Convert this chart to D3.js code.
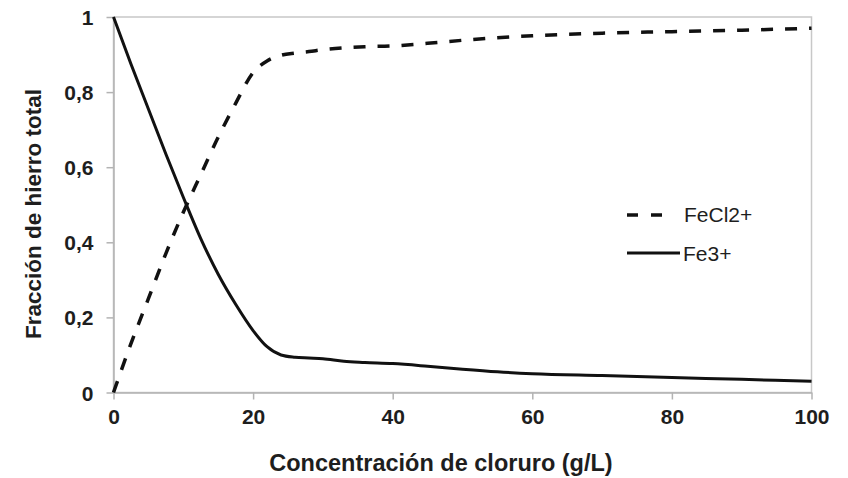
<!DOCTYPE html>
<html>
<head>
<meta charset="utf-8">
<script src="https://cdn.jsdelivr.net/npm/d3@7"></script>
<style>
  html, body { margin: 0; padding: 0; background: #fff; }
  svg { display: block; font-family: "Liberation Sans", Arial, sans-serif; }
</style>
</head>
<body>
<svg id="chart" width="848" height="478"></svg>
<script>
// Chloride concentration (g/L)
const cloruro = [0, 2.5, 5, 7.5, 10, 12.5, 15, 17.5, 20, 22, 24, 26, 28, 30, 33, 36, 40, 45, 50, 55, 60, 70, 80, 90, 100];
// Fraction of total iron present as FeCl2+
const fecl2 = [0, 0.13, 0.25, 0.37, 0.48, 0.58, 0.68, 0.77, 0.852, 0.883, 0.898, 0.904, 0.908, 0.913, 0.918, 0.921, 0.923, 0.93, 0.938, 0.945, 0.95, 0.957, 0.961, 0.965, 0.97];
// Fraction of total iron present as Fe3+
const fe3 = [1, 0.875, 0.755, 0.635, 0.52, 0.41, 0.315, 0.235, 0.165, 0.122, 0.1, 0.094, 0.092, 0.09, 0.083, 0.08, 0.077, 0.07, 0.062, 0.055, 0.05, 0.045, 0.04, 0.035, 0.03];

const xTicks = [0, 20, 40, 60, 80, 100];
const yTicks = [0, 0.2, 0.4, 0.6, 0.8, 1];
const seriesNames = ["FeCl2+", "Fe3+"];

const svg = d3.select("#chart");
const x = d3.scaleLinear().domain([0, 100]).range([113.5, 811.5]);
const y = d3.scaleLinear().domain([0, 1]).range([392.5, 17]);

const axisColor = "#b3b3b3";
const textColor = "#1e1e1e";

// Plot area frame (top and right edges)
svg.append("rect")
  .attr("x", x(0)).attr("y", y(1))
  .attr("width", x(100) - x(0)).attr("height", y(0) - y(1))
  .attr("fill", "none").attr("stroke", "#c8c8c8").attr("stroke-width", 1.5);

const fmtY = d => (d === 0 || d === 1) ? String(d) : d3.format(".1f")(d).replace(".", ",");

const gx = svg.append("g")
  .attr("transform", `translate(0,${y(0)})`)
  .call(d3.axisBottom(x).tickValues(xTicks).tickSizeInner(7).tickSizeOuter(0).tickPadding(10));
const gy = svg.append("g")
  .attr("transform", `translate(${x(0)},0)`)
  .call(d3.axisLeft(y).tickValues(yTicks).tickFormat(fmtY).tickSizeInner(7).tickSizeOuter(0).tickPadding(13));

[gx, gy].forEach(g => {
  g.selectAll("path.domain").attr("stroke", axisColor).attr("stroke-width", 1.5);
  g.selectAll(".tick line").attr("stroke", axisColor).attr("stroke-width", 1.5);
  g.selectAll(".tick text")
    .attr("fill", textColor)
    .style("font-size", "21px")
    .style("font-weight", "bold")
    .style("font-family", "'Liberation Sans', Arial, sans-serif");
});
gy.selectAll(".tick text").attr("dy", "0.36em");

const rows = cloruro.map((c, i) => ({ c, a: fecl2[i], b: fe3[i] }));

const lineA = d3.line().x(d => x(d.c)).y(d => y(d.a)).curve(d3.curveMonotoneX);
const lineB = d3.line().x(d => x(d.c)).y(d => y(d.b)).curve(d3.curveMonotoneX);

svg.append("path").datum(rows)
  .attr("d", lineA)
  .attr("fill", "none").attr("stroke", "#111").attr("stroke-width", 3.5)
  .attr("stroke-dasharray", "12,12");

svg.append("path").datum(rows)
  .attr("d", lineB)
  .attr("fill", "none").attr("stroke", "#111").attr("stroke-width", 3);

// Axis titles
svg.append("text")
  .attr("x", 441).attr("y", 471)
  .attr("text-anchor", "middle")
  .attr("fill", textColor)
  .style("font-size", "23.5px").style("font-weight", "bold")
  .text("Concentración de cloruro (g/L)");

svg.append("text")
  .attr("transform", "translate(41,214) rotate(-90)")
  .attr("text-anchor", "middle")
  .attr("fill", textColor)
  .style("font-size", "22.5px").style("font-weight", "bold")
  .text("Fracción de hierro total");

// Legend
const legend = svg.append("g");
legend.append("line")
  .attr("x1", 627).attr("x2", 670).attr("y1", 215).attr("y2", 215)
  .attr("stroke", "#111").attr("stroke-width", 3.5).attr("stroke-dasharray", "11,13");
legend.append("text")
  .attr("x", 684).attr("y", 222)
  .attr("fill", textColor).style("font-size", "21px")
  .text(seriesNames[0]);
legend.append("line")
  .attr("x1", 627).attr("x2", 680).attr("y1", 253).attr("y2", 253)
  .attr("stroke", "#111").attr("stroke-width", 3);
legend.append("text")
  .attr("x", 683).attr("y", 261)
  .attr("fill", textColor).style("font-size", "21px")
  .text(seriesNames[1]);
</script>
</body>
</html>
